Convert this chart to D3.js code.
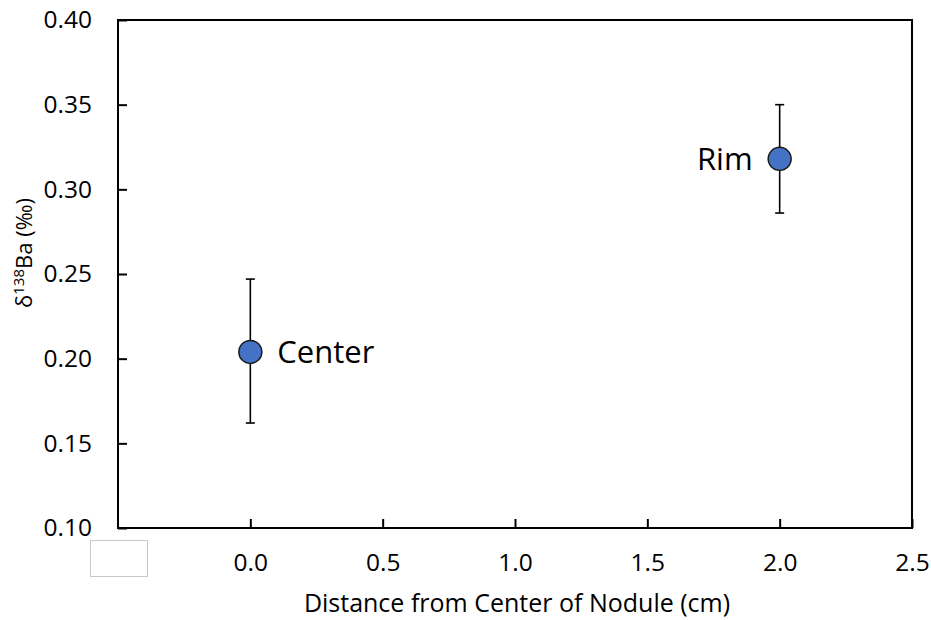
<!DOCTYPE html>
<html>
<head>
<meta charset="utf-8">
<script src="https://cdn.jsdelivr.net/npm/d3@7"></script>
<style>
    body { margin: 0; background: #fff; }
    text { font-family: "Open Sans", "Noto Sans", sans-serif; fill: #000; }
</style>
</head>
<body>
<div id="chart"></div>
<script>
// data
var names = ["Center", "Rim"];
var distance = [0.0, 2.0];
var delta = [0.204, 0.318];
var errLow = [0.162, 0.286];
var errHigh = [0.247, 0.350];
var xTicks = [0.0, 0.5, 1.0, 1.5, 2.0, 2.5];
var yTicks = [0.10, 0.15, 0.20, 0.25, 0.30, 0.35, 0.40];

var svgW = 931;
var svgH = 620;

var margin = { top: 20, right: 19, bottom: 92, left: 118 };
var chartW = svgW - margin.left - margin.right;
var chartH = svgH - margin.top - margin.bottom;

var svg = d3.select("#chart")
    .append("svg")
    .attr("width", svgW)
    .attr("height", svgH);

var chartG = svg.append("g")
    .attr("transform", `translate(${margin.left}, ${margin.top})`);

var xScale = d3.scaleLinear().domain([-0.5, 2.5]).range([0, chartW]);
var yScale = d3.scaleLinear().domain([0.10, 0.40]).range([chartH, 0]);

// ticks point inward
var bAxis = d3.axisBottom(xScale)
    .tickValues(xTicks)
    .tickSizeInner(-9)
    .tickSizeOuter(0)
    .tickPadding(26)
    .tickFormat(d3.format(".1f"));

var lAxis = d3.axisLeft(yScale)
    .tickValues(yTicks)
    .tickSizeInner(-9)
    .tickSizeOuter(0)
    .tickPadding(26)
    .tickFormat(d3.format(".2f"));

var xAxis = chartG.append("g")
    .attr("transform", `translate(0, ${chartH})`)
    .call(bAxis);

var yAxis = chartG.append("g")
    .call(lAxis);

[xAxis, yAxis].forEach(function(ax) {
    ax.select(".domain").remove();
    ax.selectAll("line").attr("stroke", "#000").attr("stroke-width", 2);
    ax.selectAll("text").attr("font-size", 24.5).attr("fill", "#000");
});

// frame
chartG.append("rect")
    .attr("x", 0)
    .attr("y", 0)
    .attr("width", chartW)
    .attr("height", chartH)
    .attr("fill", "none")
    .attr("stroke", "#000")
    .attr("stroke-width", 2);

// empty box sitting where the -0.5 label would be
svg.append("rect")
    .attr("x", 90.5)
    .attr("y", 540.5)
    .attr("width", 57)
    .attr("height", 36)
    .attr("fill", "#fff")
    .attr("stroke", "#c8c8c8")
    .attr("stroke-width", 1);

var pts = names.map(function(n, i) {
    return { name: n, x: distance[i], y: delta[i], lo: errLow[i], hi: errHigh[i] };
});

var errG = chartG.append("g").selectAll("g")
    .data(pts)
    .enter()
    .append("g");

errG.append("line")
    .attr("x1", function(d) { return xScale(d.x) })
    .attr("x2", function(d) { return xScale(d.x) })
    .attr("y1", function(d) { return yScale(d.lo) })
    .attr("y2", function(d) { return yScale(d.hi) })
    .attr("stroke", "#000")
    .attr("stroke-width", 1.6);

["lo", "hi"].forEach(function(k) {
    errG.append("line")
        .attr("x1", function(d) { return xScale(d.x) - 4.5 })
        .attr("x2", function(d) { return xScale(d.x) + 4.5 })
        .attr("y1", function(d) { return yScale(d[k]) })
        .attr("y2", function(d) { return yScale(d[k]) })
        .attr("stroke", "#000")
        .attr("stroke-width", 1.6);
});

chartG.append("g").selectAll("circle")
    .data(pts)
    .enter()
    .append("circle")
    .attr("cx", function(d) { return xScale(d.x) })
    .attr("cy", function(d) { return yScale(d.y) })
    .attr("r", 11.5)
    .attr("fill", "#4472C4")
    .attr("stroke", "#1a1a1a")
    .attr("stroke-width", 1.5);

chartG.append("g").selectAll("text")
    .data(pts)
    .enter()
    .append("text")
    .attr("x", function(d) { return d.name == "Center" ? xScale(d.x) + 27 : xScale(d.x) - 27 })
    .attr("y", function(d) { return yScale(d.y) })
    .attr("dy", "0.35em")
    .attr("text-anchor", function(d) { return d.name == "Center" ? "start" : "end" })
    .attr("font-size", 31)
    .text(function(d) { return d.name });

// axis titles
svg.append("text")
    .attr("x", 517)
    .attr("y", 612)
    .attr("text-anchor", "middle")
    .attr("font-size", 25)
    .text("Distance from Center of Nodule (cm)");

var yt = svg.append("text")
    .attr("transform", "translate(32, 253) rotate(-90)")
    .attr("text-anchor", "middle")
    .attr("font-size", 22);
yt.append("tspan").text("δ");
yt.append("tspan").attr("font-size", 15).attr("dy", -8).text("138");
yt.append("tspan").attr("dy", 8).text("Ba (‰)");
</script>
</body>
</html>
